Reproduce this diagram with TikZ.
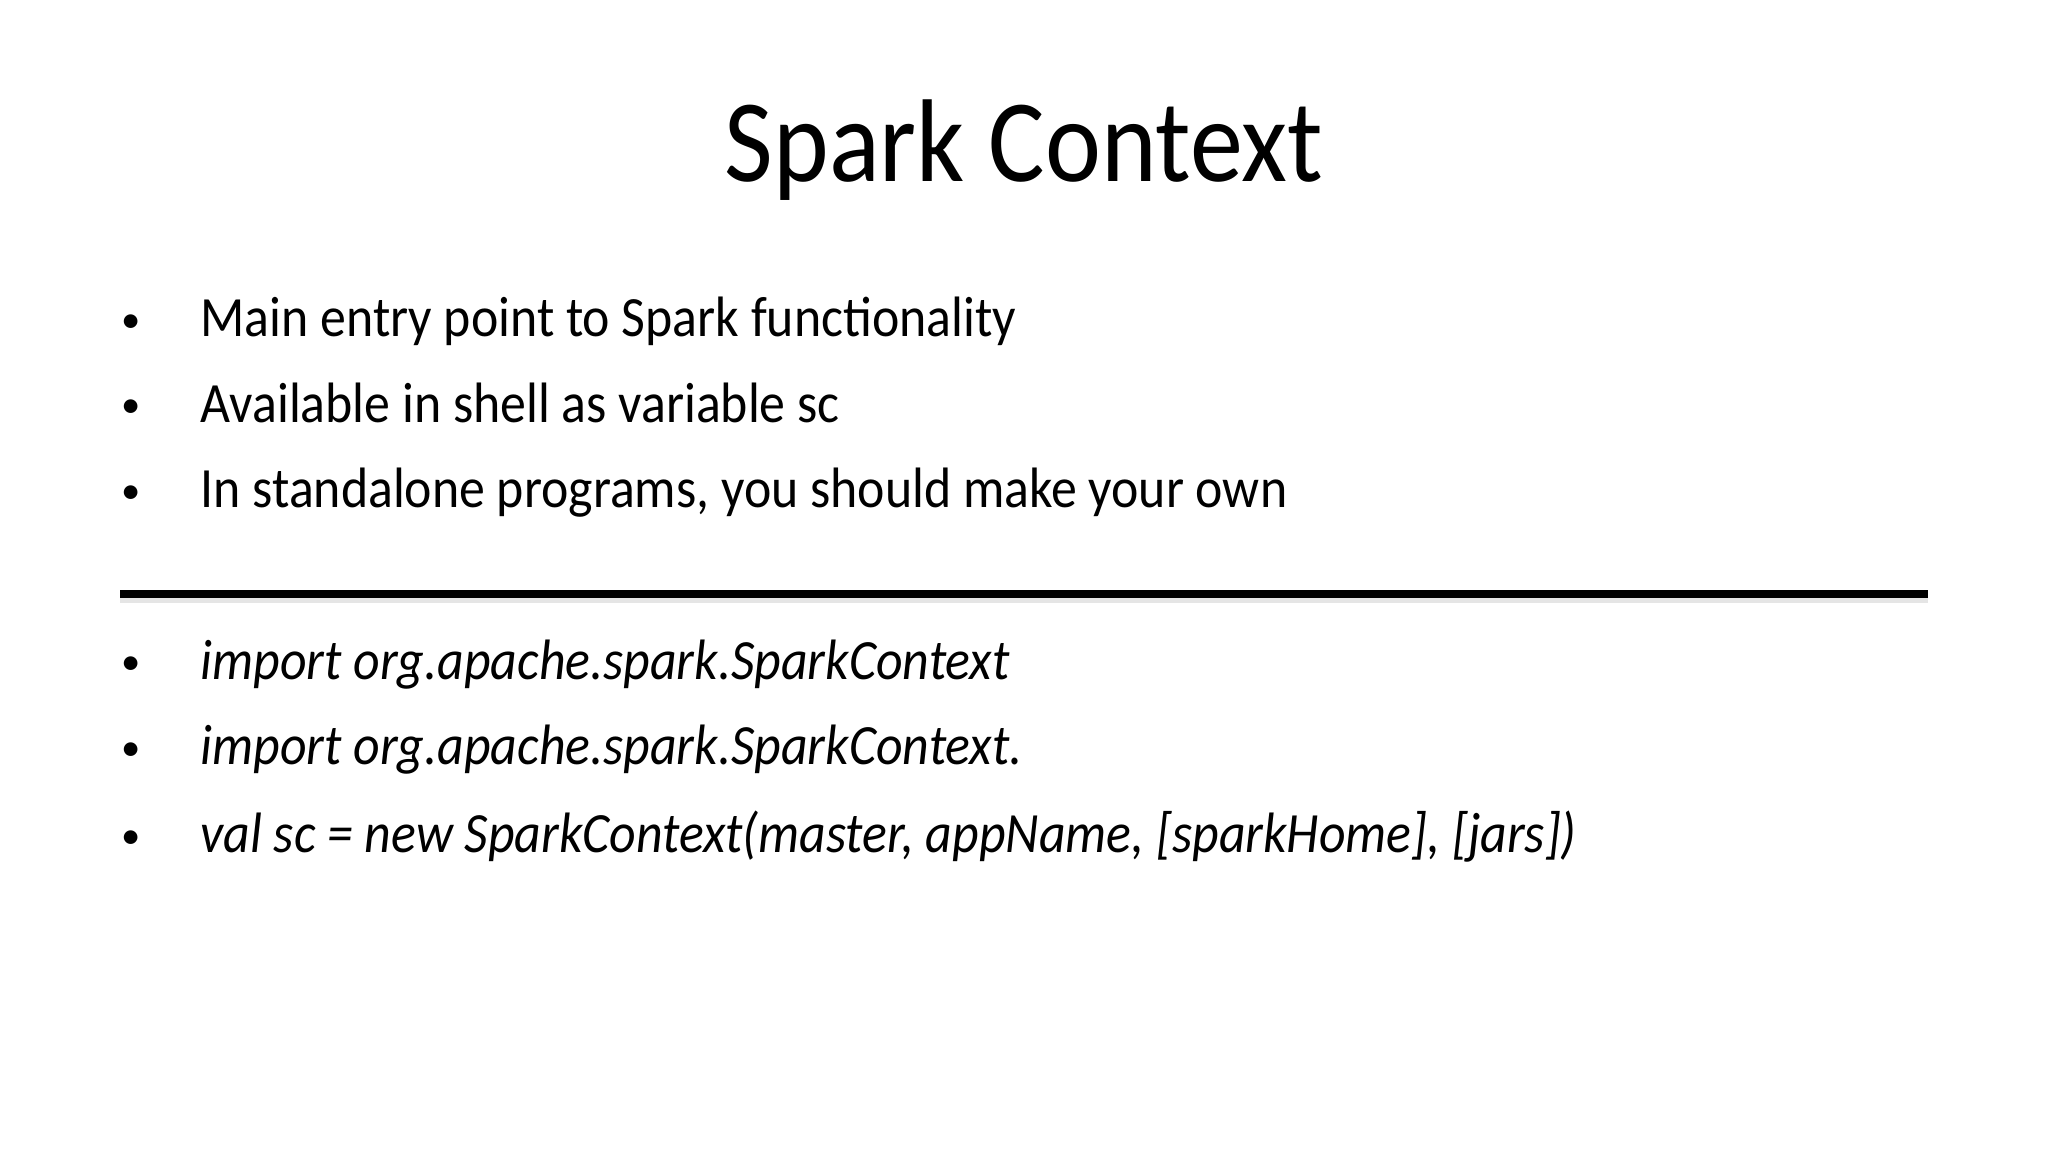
\documentclass[tikz,border=0pt]{standalone}
\usepackage{fontspec}
\setmainfont{Carlito}
\begin{document}
\begin{tikzpicture}
\useasboundingbox[fill=white] (0,0) rectangle (20.48,-11.52);
\tikzset{item/.style={anchor=base west,inner sep=0pt,xscale=0.91,font=\fontsize{16.2}{19}\selectfont},
 bul/.style={anchor=base,inner sep=0pt,font=\fontsize{11}{13}\selectfont}}
\node[anchor=base,inner sep=0pt,xscale=0.9,font=\fontsize{33.5}{40}\selectfont] (title) at (10.24,-1.82) {Spark Context};
\foreach \n/\y/\t in {a/-3.37/{Main entry point to Spark functionality},
 b/-4.22/{Available in shell as variable sc},
 c/-5.08/{In standalone programs, you should make your own},
 d/-6.79/{\itshape import org.apache.spark.SparkContext},
 e/-7.65/{\itshape import org.apache.spark.SparkContext.},
 f/-8.52/{\itshape val sc = new SparkContext(master, appName, [sparkHome], [jars])}}{
 \node[bul] (b\n) at (1.31,\y+0.04) {•};
 \node[item] (t\n) at (2.0,\y) {\t};
}
\coordinate (r1) at (1.20,-5.94);
\coordinate (r2) at (19.28,-5.94);
\draw[line width=0.08cm,black!10] ([yshift=-0.05cm]r1) -- ([yshift=-0.05cm]r2);
\draw[line width=0.08cm] (r1) -- (r2);
\end{tikzpicture}
\end{document}
